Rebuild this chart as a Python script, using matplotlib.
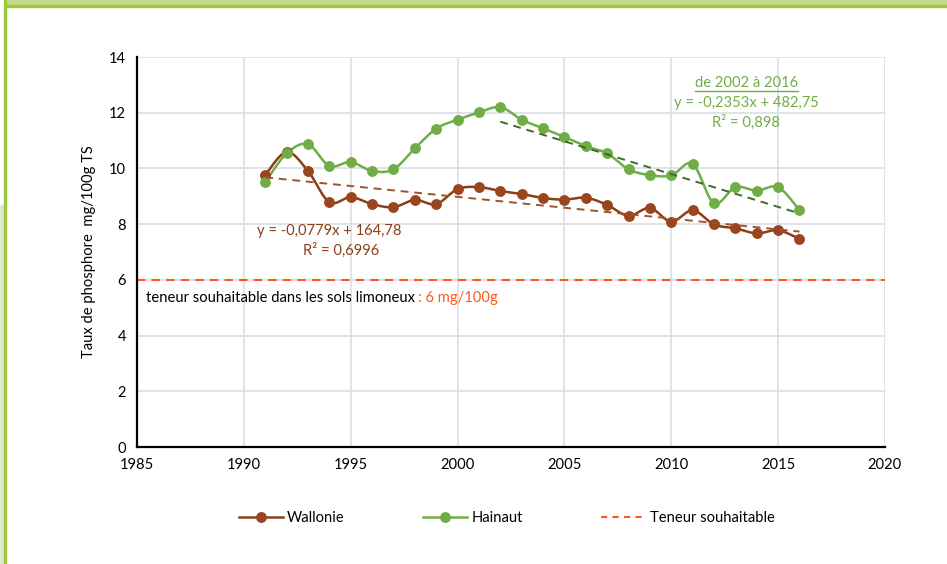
import matplotlib
matplotlib.use("Agg")
import matplotlib.pyplot as plt
import numpy as np
from matplotlib.lines import Line2D
from matplotlib.patches import Rectangle

plt.rcParams["font.family"] = ["Lato", "DejaVu Sans"]

years = list(range(1991, 2017))
wallonie = [9.76, 10.59, 9.91, 8.79, 8.97, 8.72, 8.61, 8.87, 8.72, 9.26,
            9.33, 9.19, 9.08, 8.94, 8.88, 8.95, 8.69, 8.30, 8.58, 8.09,
            8.50, 7.99, 7.85, 7.67, 7.78, 7.47]
hainaut = [9.51, 10.54, 10.87, 10.09, 10.23, 9.91, 9.97, 10.72, 11.43, 11.75,
           12.01, 12.20, 11.75, 11.44, 11.13, 10.80, 10.54, 9.97, 9.76, 9.75,
           10.16, 8.75, 9.33, 9.20, 9.33, 8.50]
teneur = 6

# trend lines as printed on the chart
trend_w = (-0.0779, 164.78, 1991, 2016)
trend_h = (-0.2353, 482.75, 2002, 2016)

x_ticks = [1985, 1990, 1995, 2000, 2005, 2010, 2015, 2020]
y_ticks = [0, 2, 4, 6, 8, 10, 12, 14]

c_brown = "#8B3F16"
c_brown_mk = "#99461E"
c_brown_trend = "#A0522D"
c_green = "#70AD47"
c_green_trend = "#3F6B2A"
c_orange = "#FF5719"

fs = 10.6


def smooth(x, y, n=20):
    # Excel-like smoothed line (cardinal bezier through the points)
    x = np.asarray(x, float)
    y = np.asarray(y, float)
    xs, ys = [], []
    for i in range(len(x) - 1):
        p0 = (x[max(i - 1, 0)], y[max(i - 1, 0)])
        p1 = (x[i], y[i])
        p2 = (x[i + 1], y[i + 1])
        p3 = (x[min(i + 2, len(x) - 1)], y[min(i + 2, len(x) - 1)])
        c1 = (p1[0] + (p2[0] - p0[0]) / 6, p1[1] + (p2[1] - p0[1]) / 6)
        c2 = (p2[0] - (p3[0] - p1[0]) / 6, p2[1] - (p3[1] - p1[1]) / 6)
        t = np.linspace(0, 1, n)
        for k in range(2):
            b = ((1 - t) ** 3 * p1[k] + 3 * (1 - t) ** 2 * t * c1[k]
                 + 3 * (1 - t) * t ** 2 * c2[k] + t ** 3 * p2[k])
            (xs if k == 0 else ys).append(b)
    return np.concatenate(xs), np.concatenate(ys)


fig = plt.figure(figsize=(9.47, 5.64), dpi=100)

# green frame of the page
fig.patches.append(Rectangle((0.006, 0.99), 0.994, 0.01, transform=fig.transFigure,
                             color="#C5DA8C", zorder=0))
fig.patches.append(Rectangle((0.006, 0.9875), 0.994, 0.004, transform=fig.transFigure,
                             color="#9CC83A", zorder=1))
fig.patches.append(Rectangle((0.0, 0.0), 0.0045, 0.637, transform=fig.transFigure,
                             color="#DEE9D2", zorder=0))
fig.patches.append(Rectangle((0.0045, 0.0), 0.0022, 1.0, transform=fig.transFigure,
                             color="#9CC83A", zorder=1))

ax = fig.add_axes([0.1447, 0.2074, 0.7898, 0.6915])
ax.set_xlim(1985, 2020)
ax.set_ylim(0, 14)
ax.set_xticks(x_ticks)
ax.set_yticks(y_ticks)
ax.grid(True, color="#D9DEE6", linewidth=1.2)
ax.set_axisbelow(True)
for s in ["top", "right"]:
    ax.spines[s].set_visible(False)
ax.spines["left"].set_linewidth(1.6)
ax.spines["bottom"].set_linewidth(1.6)
ax.tick_params(length=0, labelsize=fs, pad=8)
ax.set_ylabel("Taux de phosphore  mg/100g TS", fontsize=fs, labelpad=9)

ax.axhline(teneur, color=c_orange, linestyle=(0, (4, 3)), linewidth=1.5, zorder=2)

sx, sy = smooth(years, wallonie)
ax.plot(sx, sy, color=c_brown, linewidth=1.8, zorder=3)
ax.plot(years, wallonie, "o", color=c_brown_mk, markersize=6.8, zorder=4)

sx, sy = smooth(years, hainaut)
ax.plot(sx, sy, color=c_green, linewidth=1.8, zorder=3)
ax.plot(years, hainaut, "o", color=c_green, markersize=6.8, zorder=4)

a, b, x0, x1 = trend_w
ax.plot([x0, x1], [a * x0 + b, a * x1 + b], color=c_brown_trend,
        linestyle=(0, (4, 3)), linewidth=1.4, zorder=5)
a, b, x0, x1 = trend_h
ax.plot([x0, x1], [a * x0 + b, a * x1 + b], color=c_green_trend,
        linestyle=(0, (4, 3)), linewidth=1.4, zorder=5)

ax.text(1990.6, 7.75, "y = -0,0779x + 164,78", color=c_brown, fontsize=fs,
        ha="left", va="center")
ax.text(1992.75, 7.05, "R² = 0,6996", color=c_brown, fontsize=fs,
        ha="left", va="center")

t_head = ax.text(2013.5, 13.05, "de 2002 à 2016", color=c_green, fontsize=fs,
                 ha="center", va="center")
ax.text(2013.5, 12.35, "y = -0,2353x + 482,75", color=c_green, fontsize=fs,
        ha="center", va="center")
ax.text(2013.5, 11.65, "R² = 0,898", color=c_green, fontsize=fs,
        ha="center", va="center")

t1 = ax.text(1985.4, 5.35, "teneur souhaitable dans les sols limoneux ", color="black",
             fontsize=fs, ha="left", va="center")
fig.canvas.draw()
bb = t1.get_window_extent().transformed(ax.transData.inverted())
ax.text(bb.x1, 5.35, ": 6 mg/100g", color=c_orange, fontsize=fs,
        ha="left", va="center")

hb = t_head.get_window_extent().transformed(ax.transData.inverted())
ax.plot([hb.x0, hb.x1], [hb.y0 - 0.03, hb.y0 - 0.03], color=c_green,
        linewidth=1.0, clip_on=False)

handles = [
    Line2D([], [], color=c_brown, marker="o", markersize=6.8, linewidth=1.8,
           markerfacecolor=c_brown_mk, markeredgecolor=c_brown_mk),
    Line2D([], [], color=c_green, marker="o", markersize=6.8, linewidth=1.8),
    Line2D([], [], color=c_orange, linestyle=(0, (3, 2.5)), linewidth=1.5),
]
fig.legend(handles, ["Wallonie", "Hainaut", "Teneur souhaitable"], loc="center",
           bbox_to_anchor=(0.535, 0.082), ncol=3, frameon=False, fontsize=fs,
           columnspacing=5.3, handlelength=3.0, handletextpad=0.3)

fig.savefig("out.png", dpi=100)
